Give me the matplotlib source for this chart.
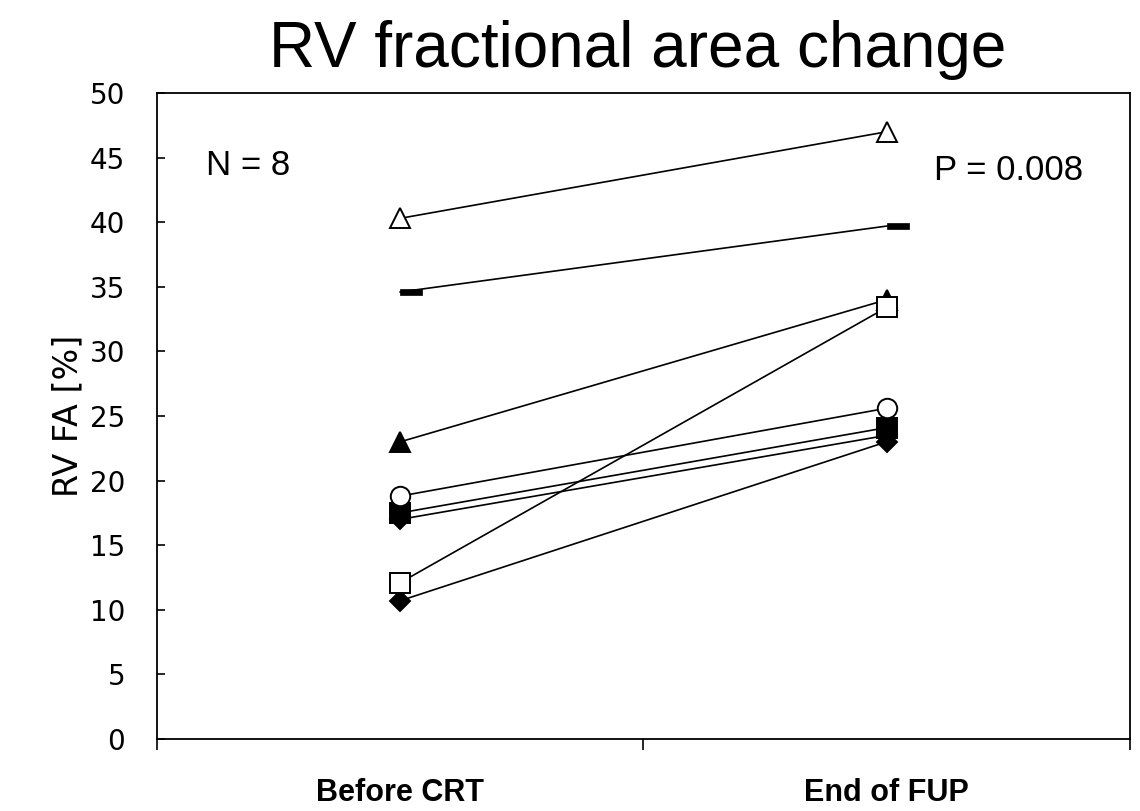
import matplotlib
matplotlib.use("Agg")
import matplotlib.pyplot as plt
from matplotlib.path import Path

plt.rcParams["font.family"] = ["Liberation Sans", "DejaVu Sans"]

# ── data ──────────────────────────────────────────────────────────────────────
groups = ["Before CRT", "End of FUP"]
before = [40.3, 34.6, 23.0, 17.5, 17.0, 10.7, 18.8, 12.1]
after = [47.0, 39.7, 34.0, 24.1, 23.5, 23.0, 25.6, 33.4]
markers = ["^", "dash", "^", "s", "D", "D", "o", "s"]
filled = [False, True, True, True, True, True, False, False]
yticks = list(range(0, 55, 5))

# dash marker that starts at the data point and extends to the right
DASH = Path([(0, -0.13), (1, -0.13), (1, 0.13), (0, 0.13), (0, -0.13)],
            [Path.MOVETO, Path.LINETO, Path.LINETO, Path.LINETO, Path.CLOSEPOLY])

fig = plt.figure(figsize=(11.4, 8.11), dpi=100)
ax = fig.add_axes([0.1377, 0.0888, 0.8533, 0.7965])

xs = [0.5, 1.5]
for b, a, m, f in zip(before, after, markers, filled):
    if m == "dash":
        ax.plot(xs, [b, a], color="black", linewidth=1.2, marker=DASH,
                markersize=31, markerfacecolor="black", markeredgewidth=0.5, zorder=3)
        continue
    ms = {"^": 15, "s": 15, "D": 10.5, "o": 14}[m]
    ax.plot(xs, [b, a], color="black", linewidth=1.2, marker=m, markersize=ms,
            markerfacecolor="black" if f else "white", markeredgecolor="black",
            markeredgewidth=1.4, zorder=4 if not f else 3)

ax.set_xlim(0, 2)
ax.set_ylim(0, 50)
ax.set_yticks(yticks)
ax.set_yticklabels([str(t) for t in yticks], family="DejaVu Sans")
ax.tick_params(axis="y", direction="in", length=6, width=1.2, pad=23, labelsize=20)
ax.set_xticks([0, 1, 2])
ax.set_xticklabels(["", "", ""])
ax.tick_params(axis="x", which="major", direction="out", length=8, width=1.2)
ax.set_xticks(xs, minor=True)
ax.set_xticklabels(groups, minor=True, fontsize=22, fontweight="bold")
ax.tick_params(axis="x", which="minor", length=0, pad=28)
for s in ax.spines.values():
    s.set_linewidth(1.3)

ax.set_ylabel("RV FA [%]", fontsize=24, family="DejaVu Sans", labelpad=4)
ax.text(0.1, 44.4, "N = 8", fontsize=25, va="center", ha="left")
ax.text(1.597, 44.0, "P = 0.008", fontsize=25, va="center", ha="left")
fig.text(0.559, 0.918, "RV fractional area change", fontsize=46,
         ha="center", va="baseline")

fig.savefig("out.png", dpi=100)
